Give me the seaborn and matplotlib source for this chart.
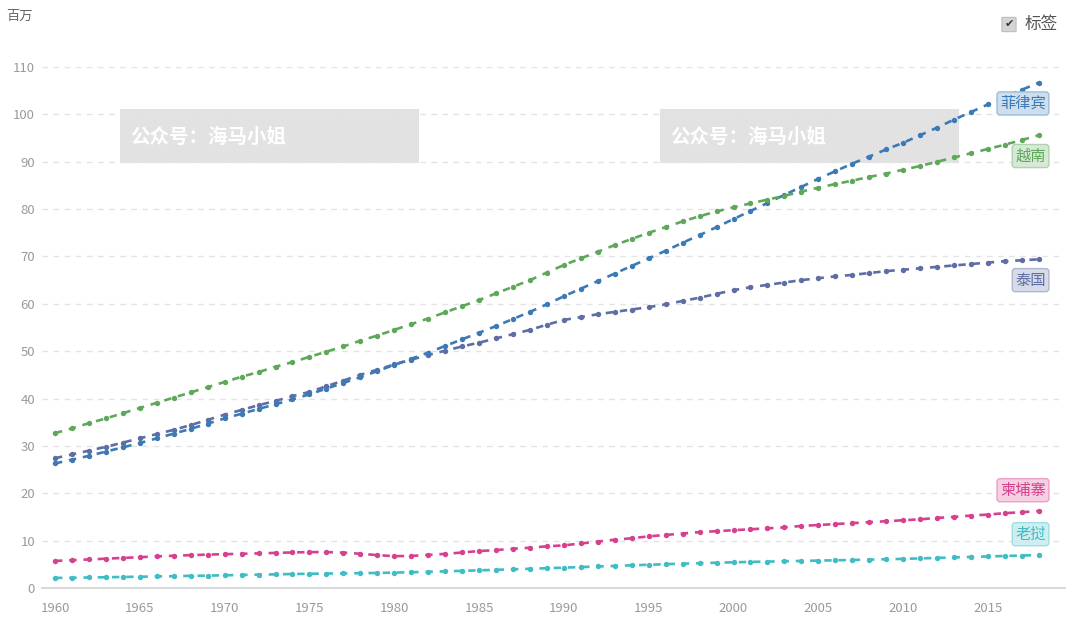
import numpy as np
import pandas as pd
import matplotlib
matplotlib.use("Agg")
import matplotlib.pyplot as plt
from matplotlib.patches import Rectangle, FancyBboxPatch
import matplotlib.colors as mcolors
import seaborn as sns

# ---------------- data (millions) ----------------
years = list(range(1960, 2019))

philippines = [26.3, 27.1, 27.9, 28.8, 29.7, 30.6, 31.6, 32.6, 33.6, 34.7,
               35.8, 36.8, 37.8, 38.8, 39.8, 40.9, 42.1, 43.3, 44.5, 45.8,
               47.1, 48.4, 49.7, 51.1, 52.5, 53.9, 55.3, 56.8, 58.3, 59.9,
               61.6, 63.2, 64.8, 66.4, 68.0, 69.6, 71.2, 72.9, 74.5, 76.2,
               77.9, 79.6, 81.3, 83.0, 84.7, 86.4, 88.0, 89.6, 91.1, 92.6,
               94.0, 95.6, 97.2, 98.9, 100.5, 102.1, 103.7, 105.2, 106.7]

vietnam = [32.7, 33.7, 34.8, 35.8, 36.9, 38.0, 39.1, 40.2, 41.3, 42.4,
           43.5, 44.6, 45.6, 46.7, 47.7, 48.8, 49.9, 51.0, 52.2, 53.3,
           54.5, 55.7, 56.9, 58.2, 59.5, 60.8, 62.2, 63.6, 65.0, 66.6,
           68.2, 69.6, 71.0, 72.4, 73.7, 75.0, 76.2, 77.4, 78.5, 79.5,
           80.4, 81.2, 82.0, 82.8, 83.7, 84.5, 85.3, 86.0, 86.8, 87.5,
           88.3, 89.1, 90.0, 90.9, 91.8, 92.7, 93.6, 94.6, 95.6]

thailand = [27.4, 28.2, 29.0, 29.8, 30.7, 31.6, 32.5, 33.4, 34.4, 35.5,
            36.6, 37.6, 38.6, 39.5, 40.5, 41.4, 42.6, 43.8, 45.0, 46.1,
            47.2, 48.2, 49.2, 50.1, 51.0, 51.8, 52.7, 53.6, 54.5, 55.6,
            56.6, 57.2, 57.8, 58.3, 58.8, 59.3, 59.9, 60.6, 61.3, 62.1,
            62.9, 63.5, 64.0, 64.5, 65.0, 65.4, 65.8, 66.1, 66.5, 66.9,
            67.2, 67.5, 67.8, 68.1, 68.4, 68.7, 69.0, 69.2, 69.4]

cambodia = [5.72, 5.87, 6.03, 6.19, 6.35, 6.51, 6.67, 6.81, 6.94, 7.05,
            7.14, 7.22, 7.31, 7.41, 7.51, 7.58, 7.58, 7.47, 7.23, 6.94,
            6.72, 6.77, 6.98, 7.20, 7.50, 7.80, 8.00, 8.30, 8.50, 8.80,
            9.00, 9.40, 9.80, 10.2, 10.5, 10.9, 11.2, 11.5, 11.8, 12.0,
            12.2, 12.4, 12.6, 12.8, 13.1, 13.3, 13.5, 13.7, 13.9, 14.1,
            14.3, 14.5, 14.8, 15.0, 15.3, 15.5, 15.8, 16.0, 16.25]

laos = [2.12, 2.17, 2.22, 2.27, 2.33, 2.38, 2.44, 2.50, 2.56, 2.62,
        2.69, 2.75, 2.82, 2.88, 2.95, 3.00, 3.05, 3.09, 3.13, 3.18,
        3.25, 3.33, 3.42, 3.52, 3.62, 3.73, 3.84, 3.95, 4.06, 4.18,
        4.30, 4.42, 4.54, 4.66, 4.79, 4.91, 5.03, 5.14, 5.24, 5.34,
        5.43, 5.51, 5.58, 5.65, 5.72, 5.79, 5.85, 5.92, 5.99, 6.07,
        6.15, 6.25, 6.35, 6.45, 6.56, 6.66, 6.76, 6.86, 6.96]

countries = ["老挝", "柬埔寨", "泰国", "菲律宾", "越南"]
series = [laos, cambodia, thailand, philippines, vietnam]
colors = ["#3fbcc4", "#d6418f", "#5e6ea4", "#3a7ab6", "#5fa85a"]
label_offsets = [15, 15, -15, -15, -15]   # points (above / below line end)

y_ticks = list(range(0, 111, 10))
x_ticks = list(range(1960, 2016, 5))
unit_label = "百万"
legend_label = "标签"
watermark = "公众号：海马小姐"

# ---------------- figure ----------------
sns.set_style("white")
plt.rcParams["font.family"] = ["Noto Sans CJK SC", "DejaVu Sans"]

fig = plt.figure(figsize=(10.8, 6.35), dpi=100)

# watermark boxes (behind the chart)
for x0 in (120, 660):
    fig.patches.append(Rectangle((x0 / 1080, 1 - 163 / 635), 299 / 1080, 54 / 635,
                                 transform=fig.transFigure, facecolor="#e2e2e2",
                                 edgecolor="none", zorder=-2))
    fig.text((x0 + 10) / 1080, 1 - 137 / 635, watermark, color="white",
             fontsize=14, fontweight="bold", ha="left", va="center", zorder=-1)

ax = fig.add_axes([42 / 1080, 47 / 635, 1023 / 1080, 521 / 635])
ax.patch.set_alpha(0)

df = pd.DataFrame({
    "year": np.tile(years, len(countries)),
    "value": np.concatenate([np.array(s, dtype=float) for s in series]),
    "country": np.repeat(countries, len(years)),
})

for name, col in zip(countries, colors):
    sub = df[df["country"] == name]
    sns.lineplot(data=sub, x="year", y="value", ax=ax, color=col,
                 linewidth=1.9, linestyle=(0, (2.8, 2.6)),
                 marker="o", markersize=3.9, markeredgewidth=0,
                 legend=False, clip_on=False, zorder=3)

ax.set_xlim(1959.234, 2019.54)
ax.set_ylim(0, 110)
ax.set_xticks(x_ticks)
ax.set_yticks(y_ticks)
ax.set_xlabel("")
ax.set_ylabel("")

ax.yaxis.grid(True, color="#e3e3e3", linestyle=(0, (4, 4)), linewidth=1)
ax.xaxis.grid(False)
for s in ["top", "right", "left"]:
    ax.spines[s].set_visible(False)
ax.spines["bottom"].set_color("#d6d6d6")
ax.spines["bottom"].set_linewidth(1.3)

ax.tick_params(axis="y", length=0, pad=5, labelsize=9.5, labelcolor="#9a9a9a")
ax.tick_params(axis="x", length=4, width=1, color="#cfcfcf", pad=6,
               labelsize=9.5, labelcolor="#9a9a9a", direction="out")
ax.set_axisbelow(True)

# end labels
for name, col, vals, off in zip(countries, colors, series, label_offsets):
    rgb = mcolors.to_rgb(col)
    fc = tuple(1 - (1 - c) * 0.25 for c in rgb)
    ec = tuple(1 - (1 - c) * 0.5 for c in rgb)
    ax.annotate(name, xy=(years[-1], vals[-1]), xytext=(5, off),
                textcoords="offset points", ha="right", va="center",
                fontsize=11, color=col, zorder=5,
                bbox=dict(boxstyle="round,pad=0.2", fc=fc, ec=ec, lw=1))

# unit label
fig.text(6 / 1080, 1 - 16 / 635, unit_label, fontsize=9.5, color="#666666",
         ha="left", va="center")

# legend checkbox
fig.patches.append(FancyBboxPatch((1003 / 1080, 1 - 31 / 635), 12 / 1080, 13 / 635,
                                  boxstyle="round,pad=0.001", transform=fig.transFigure,
                                  facecolor="#d4d4d4", edgecolor="#bdbdbd", lw=0.8))
fig.text(1009 / 1080, 1 - 24.5 / 635, "✔", family=["DejaVu Sans"], fontsize=8,
         color="#333333", ha="center", va="center")
fig.text(1025 / 1080, 1 - 24 / 635, legend_label, fontsize=12, color="#555555",
         ha="left", va="center")

fig.savefig("out.png", dpi=100)
